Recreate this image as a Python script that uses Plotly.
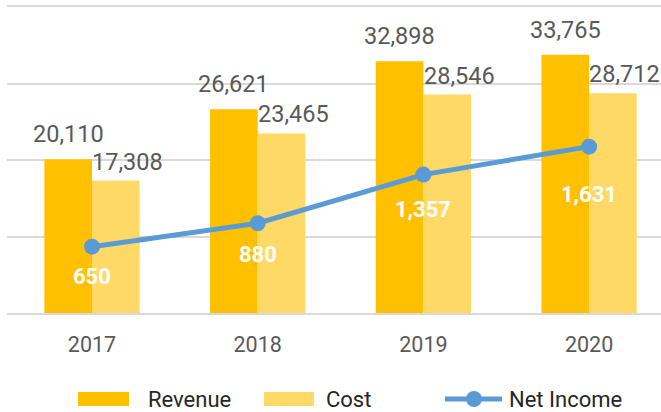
import plotly.graph_objects as go

years = ["2017", "2018", "2019", "2020"]
revenue = [20110, 26621, 32898, 33765]
cost = [17308, 23465, 28546, 28712]
net_income = [650, 880, 1357, 1631]

series_names = ["Revenue", "Cost", "Net Income"]

# label offsets (px) below the net-income markers
ni_label_dy = [30, 31, 35, 48]

C_REV = "#FFC000"
C_COST = "#FFD966"
C_LINE = "#5B9BD5"
C_TEXT = "#595959"
C_LEG = "#262626"
C_GRID = "#D9D9D9"
FONT = "Roboto"

W, H = 661, 412
ML, MR, MT, MB = 7, 0, 7, 99
PW, PH = W - ML - MR, H - MT - MB
Y_MAX = 40000

def px_x(x):
    return (x - ML) / PW

def px_y(y):
    return (H - MB - y) / PH

bargap = 0.425
w = (1 - bargap) / 2  # width of one bar in category units

fig = go.Figure()
fig.add_trace(go.Bar(x=years, y=revenue, name=series_names[0], marker_color=C_REV,
                     marker_line_width=0))
fig.add_trace(go.Bar(x=years, y=cost, name=series_names[1], marker_color=C_COST,
                     marker_line_width=0))
fig.add_trace(go.Scatter(x=years, y=net_income, name=series_names[2], yaxis="y2",
                         mode="lines+markers",
                         line=dict(color=C_LINE, width=5),
                         marker=dict(color=C_LINE, size=16)))

for i, v in enumerate(revenue):
    fig.add_annotation(x=i - w / 2, y=v, xref="x", yref="y", text=f"{v:,}", showarrow=False,
                       yanchor="bottom", xanchor="center", yshift=9,
                       font=dict(family=FONT, size=23.5, color=C_TEXT))
for i, v in enumerate(cost):
    fig.add_annotation(x=i + w / 2, y=v, xref="x", yref="y", text=f"{v:,}", showarrow=False,
                       yanchor="bottom", xanchor="center", xshift=12, yshift=3,
                       font=dict(family=FONT, size=23.5, color=C_TEXT))
for i, (v, dy) in enumerate(zip(net_income, ni_label_dy)):
    fig.add_annotation(x=i, y=v, xref="x", yref="y2", text=f"<b>{v:,}</b>", showarrow=False,
                       yanchor="middle", xanchor="center", yshift=-dy,
                       font=dict(family=FONT, size=22, color="white"))

# top gridline (upper end of the value axis), drawn slightly inside the frame
fig.add_shape(type="line", xref="paper", yref="paper", x0=0, x1=1, y0=px_y(6), y1=px_y(6),
              line=dict(color=C_GRID, width=2), layer="above")

# custom legend (large swatches like the original)
leg_y = 399
fig.add_shape(type="rect", xref="paper", yref="paper", x0=px_x(78), x1=px_x(129),
              y0=px_y(406), y1=px_y(392), fillcolor=C_REV, line_width=0)
fig.add_shape(type="rect", xref="paper", yref="paper", x0=px_x(264), x1=px_x(314),
              y0=px_y(406), y1=px_y(392), fillcolor=C_COST, line_width=0)
fig.add_shape(type="line", xref="paper", yref="paper", x0=px_x(445), x1=px_x(502),
              y0=px_y(leg_y), y1=px_y(leg_y), line=dict(color=C_LINE, width=5))
fig.add_shape(type="circle", xref="paper", yref="paper", x0=px_x(466), x1=px_x(482),
              y0=px_y(leg_y + 8), y1=px_y(leg_y - 8), fillcolor=C_LINE, line_width=0)
for name, lx in zip(series_names, [146, 324, 507]):
    fig.add_annotation(x=px_x(lx), y=px_y(leg_y + 1), xref="paper", yref="paper", text=name,
                       showarrow=False, xanchor="left", yanchor="middle",
                       font=dict(family=FONT, size=22, color=C_LEG))

fig.update_layout(
    width=W, height=H,
    margin=dict(l=ML, r=MR, t=MT, b=MB),
    paper_bgcolor="white", plot_bgcolor="rgba(0,0,0,0)",
    barmode="group", bargap=bargap, bargroupgap=0,
    font=dict(family=FONT, color=C_TEXT),
    xaxis=dict(type="category", range=[-0.513, 3.434], showgrid=False, zeroline=False,
               showline=True, linecolor=C_GRID, linewidth=2,
               ticks="", ticklabelstandoff=11,
               tickfont=dict(family=FONT, size=21.5, color=C_TEXT)),
    yaxis=dict(range=[0, Y_MAX], dtick=10000, showgrid=True, gridcolor=C_GRID,
               gridwidth=2, zeroline=False, showticklabels=False, ticks=""),
    yaxis2=dict(range=[0, 3000], overlaying="y", visible=False, showgrid=False),
    showlegend=False,
)

fig.write_html("out.html", config={"displayModeBar": False},
               post_script="document.body.style.margin='0';")
